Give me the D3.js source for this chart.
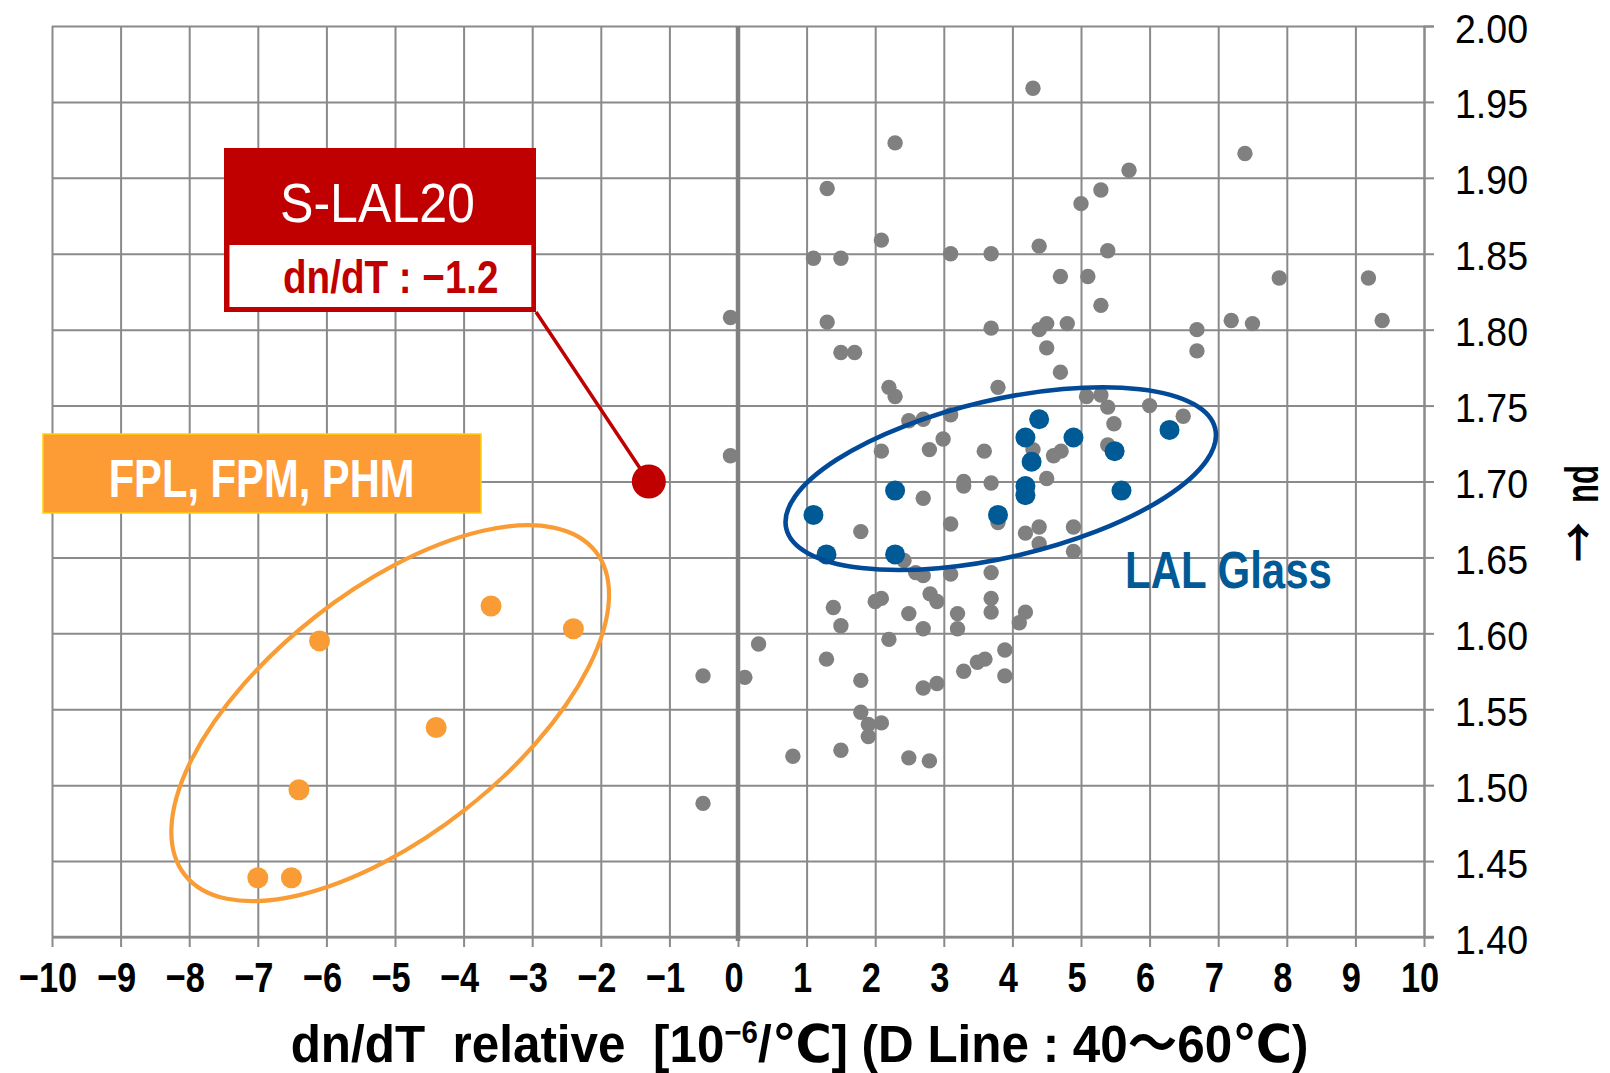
<!DOCTYPE html>
<html>
<head>
<meta charset="utf-8">
<script src="https://cdn.jsdelivr.net/npm/d3@7"></script>
<style>
  html, body { margin: 0; padding: 0; background: #fff; }
  svg { display: block; }
  text { white-space: pre; }
</style>
</head>
<body>
<svg id="chart" width="1610" height="1073"></svg>
<script>
// ---------------- DATA ----------------
const xTickValues = [-10,-9,-8,-7,-6,-5,-4,-3,-2,-1,0,1,2,3,4,5,6,7,8,9,10];
const yTickValues = [1.40,1.45,1.50,1.55,1.60,1.65,1.70,1.75,1.80,1.85,1.90,1.95,2.00];

// other optical glasses (grey)
const otherDnDT = [4.30,2.29,5.70,1.30,5.29,5.00,7.39,
  2.09,1.10,1.50,3.10,3.69,4.39,5.39,
  4.70,5.10,7.89,9.19,5.29,
  -0.11,1.30,3.69,4.39,4.50,4.80,6.69,7.19,7.50,9.39,
  4.50,1.50,1.70,6.69,4.70,
  2.20,2.29,3.79,5.08,5.29,5.39,6.00,6.49,5.48,
  2.49,2.70,3.10,2.99,2.79,2.09,3.59,4.30,4.60,4.71,5.39,-0.11,
  3.29,3.29,3.69,4.50,2.70,3.10,3.79,1.79,4.19,4.39,4.89,4.39,4.89,
  2.42,2.59,2.70,3.10,3.69,2.80,2.90,2.00,2.09,3.69,3.69,1.39,2.49,3.20,4.19,4.10,1.50,2.70,3.20,2.20,0.30,1.29,3.89,3.49,3.60,3.29,3.89,-0.51,0.10,1.79,2.70,2.90,
  1.79,1.90,2.09,1.90,0.80,1.50,2.49,2.79,-0.51];
const otherNd = [1.959,1.923,1.905,1.893,1.892,1.883,1.916,
  1.859,1.847,1.847,1.850,1.850,1.855,1.852,
  1.835,1.835,1.834,1.834,1.816,
  1.808,1.805,1.801,1.800,1.804,1.804,1.800,1.806,1.804,1.806,
  1.788,1.785,1.785,1.786,1.772,
  1.762,1.756,1.762,1.756,1.757,1.749,1.750,1.743,1.738,
  1.740,1.741,1.744,1.728,1.721,1.720,1.720,1.721,1.717,1.720,1.724,1.717,
  1.700,1.697,1.699,1.702,1.689,1.672,1.673,1.667,1.666,1.670,1.670,1.659,1.654,
  1.648,1.640,1.638,1.639,1.640,1.626,1.621,1.621,1.623,1.623,1.614,1.617,1.613,1.613,1.614,1.607,1.605,1.603,1.603,1.596,1.593,1.583,1.589,1.581,1.583,1.575,1.572,1.572,1.571,1.569,1.564,1.567,
  1.548,1.540,1.541,1.532,1.519,1.523,1.518,1.516,1.488];

// LAL glasses (blue)
const lalDnDT = [4.39,4.19,4.89,4.28,5.49,4.19,4.19,5.59,2.29,1.10,3.79,1.29,2.29,6.29];
const lalNd   = [1.741,1.729,1.729,1.713,1.720,1.697,1.691,1.694,1.694,1.678,1.678,1.652,1.652,1.734];

// FPL, FPM, PHM (orange)
const fpDnDT = [-3.60,-2.40,-6.10,-4.40,-6.40,-7.00,-6.51];
const fpNd   = [1.618,1.603,1.595,1.538,1.497,1.439,1.439];

// S-LAL20 (red)
const slalDnDT = [-1.3];
const slalNd   = [1.700];

// group ellipses (centre in data units, radii in dn/dT units, rotation in degrees)
const lalEllipse = {cx: 3.83, cy: 1.7019, rx: 3.21, ry: 1.146, angle: -13.1};
const fpEllipse  = {cx: -5.07, cy: 1.5474, rx: 3.81, ry: 1.78, angle: -38.2};

// ---------------- LAYOUT ----------------
const FONT = '"Liberation Sans", Arial, "DejaVu Sans", "Noto Sans CJK JP", sans-serif';
const svg = d3.select('#chart');
const pLeft = 52, pRight = 1424, pTop = 26, pBottom = 937;
const x = d3.scaleLinear().domain([-10, 10]).range([pLeft, pRight]);
const y = d3.scaleLinear().domain([1.40, 2.00]).range([pBottom, pTop]);
const unitPx = x(1) - x(0);

const GRID = '#8a8a8a';
const GREY = '#808080', BLUE = '#005a96', ELL_BLUE = '#004a98', ORANGE = '#fa9c35', RED = '#c00000';

function fitText(parent, str, px, py, size, weight, fill, targetW, anchor, rot, family) {
  const t = parent.append('text')
    .attr('font-family', family || FONT).attr('font-size', size).attr('font-weight', weight)
    .attr('fill', fill).attr('text-anchor', anchor || 'middle').text(str);
  const w = t.node().getComputedTextLength();
  const s = targetW ? targetW / w : 1;
  t.attr('transform', `translate(${px},${py})${rot ? ` rotate(${rot})` : ''} scale(${s},1)`);
  return t;
}

// vertical gridlines
svg.append('g').attr('transform', `translate(0,${pBottom})`)
  .call(d3.axisBottom(x).tickValues(xTickValues).tickSize(-(pBottom - pTop)).tickFormat(''))
  .call(g => g.select('.domain').remove())
  .call(g => g.selectAll('line').attr('stroke', GRID).attr('stroke-width', 2));

// horizontal gridlines
svg.append('g').attr('transform', `translate(${pRight},0)`)
  .call(d3.axisRight(y).tickValues(yTickValues).tickSize(-(pRight - pLeft)).tickFormat(''))
  .call(g => g.select('.domain').remove())
  .call(g => g.selectAll('line').attr('stroke', GRID).attr('stroke-width', 2));

// x axis ticks + labels
const xAxis = svg.append('g').attr('transform', `translate(0,${pBottom})`)
  .call(d3.axisBottom(x).tickValues(xTickValues).tickSize(10).tickFormat(d => (d < 0 ? '\u2212' : '') + Math.abs(d)))
  .call(g => g.select('.domain').remove())
  .call(g => g.selectAll('line').attr('stroke', GRID).attr('stroke-width', 2));
xAxis.selectAll('text')
  .attr('font-family', FONT).attr('font-size', 43).attr('font-weight', 'bold').attr('fill', '#000')
  .attr('y', 0).attr('dy', 0)
  .attr('transform', 'translate(-4.5,54.5) scale(0.8,1)');

// bottom axis line
svg.append('line').attr('x1', pLeft).attr('x2', pRight + 10).attr('y1', pBottom).attr('y2', pBottom)
  .attr('stroke', GRID).attr('stroke-width', 2.6);

// y axis (right side)
const yAxis = svg.append('g').attr('transform', `translate(${pRight},0)`)
  .call(d3.axisRight(y).tickValues(yTickValues).tickSize(10).tickFormat(d3.format('.2f')))
  .call(g => g.select('.domain').attr('stroke', GRID).attr('stroke-width', 2))
  .call(g => g.selectAll('line').attr('stroke', GRID).attr('stroke-width', 2));
yAxis.selectAll('text')
  .attr('font-family', FONT).attr('font-size', 41).attr('fill', '#000')
  .attr('x', 0).attr('dy', 0)
  .attr('transform', 'translate(31,16) scale(0.915,1)');

// zero line
svg.append('line').attr('x1', x(0)).attr('x2', x(0)).attr('y1', pTop).attr('y2', pBottom + 4)
  .attr('stroke', GREY).attr('stroke-width', 4.5);

// grey points
svg.append('g').selectAll('circle').data(d3.range(otherDnDT.length)).join('circle')
  .attr('cx', i => x(otherDnDT[i])).attr('cy', i => y(otherNd[i])).attr('r', 7.7).attr('fill', GREY);

// LAL points
svg.append('g').selectAll('circle').data(d3.range(lalDnDT.length)).join('circle')
  .attr('cx', i => x(lalDnDT[i])).attr('cy', i => y(lalNd[i])).attr('r', 10).attr('fill', BLUE);

// FPL points
svg.append('g').selectAll('circle').data(d3.range(fpDnDT.length)).join('circle')
  .attr('cx', i => x(fpDnDT[i])).attr('cy', i => y(fpNd[i])).attr('r', 10.5).attr('fill', ORANGE);

// ellipses
function drawEllipse(e, color, width) {
  svg.append('ellipse')
    .attr('transform', `translate(${x(e.cx)},${y(e.cy)}) rotate(${e.angle})`)
    .attr('rx', e.rx * unitPx).attr('ry', e.ry * unitPx)
    .attr('fill', 'none').attr('stroke', color).attr('stroke-width', width);
}
drawEllipse(lalEllipse, ELL_BLUE, 4.6);
drawEllipse(fpEllipse, ORANGE, 4.2);

// LAL Glass label
fitText(svg, 'LAL Glass', 1125, 588, 52, 'bold', BLUE, 207, 'start');

// FPL box
svg.append('rect').attr('x', 43).attr('y', 434).attr('width', 438).attr('height', 79)
  .attr('fill', '#fd9b35').attr('stroke', '#ffd200').attr('stroke-width', 1.5);
fitText(svg, 'FPL, FPM, PHM', 261.6, 496.7, 53, 'bold', '#fff', 306);

// S-LAL20 box
const bx0 = 224, by0 = 148, bx1 = 536, by1 = 312;
svg.append('rect').attr('x', bx0).attr('y', by0).attr('width', bx1 - bx0).attr('height', by1 - by0).attr('fill', RED);
svg.append('rect').attr('x', 229.5).attr('y', 245).attr('width', 531.3 - 229.5).attr('height', 307 - 245).attr('fill', '#fff');
fitText(svg, 'S-LAL20', 377.5, 221.7, 56, 'normal', '#fff', 195);
fitText(svg, 'dn/dT : \u22121.2', 390.8, 293.3, 46, 'bold', RED, 215.6);

// leader line + S-LAL20 point
svg.append('line').attr('x1', bx1).attr('y1', by1).attr('x2', x(slalDnDT[0])).attr('y2', y(slalNd[0]))
  .attr('stroke', RED).attr('stroke-width', 3.5);
svg.append('g').selectAll('circle').data(d3.range(slalDnDT.length)).join('circle')
  .attr('cx', i => x(slalDnDT[i])).attr('cy', i => y(slalNd[i])).attr('r', 17).attr('fill', RED);

// x axis title
const title = svg.append('text').attr('font-family', FONT).attr('font-size', 52).attr('font-weight', 'bold').attr('fill', '#000');
title.append('tspan').text('dn/dT  relative  [10');
title.append('tspan').attr('font-size', 31).attr('dy', -19).text('\u22126');
title.append('tspan').attr('dy', 19).text('/\u2103] (D Line : 40\u301C60\u2103)');
const tw = title.node().getBBox().width;
title.attr('transform', `translate(290.7,1061.7) scale(${1018 / tw},1)`);

// y axis title (rotated, reading upward): arrow then "nd"
fitText(svg, 'nd', 1598, 484, 46, 'bold', '#000', 38, 'middle', -90);
fitText(svg, '\u2192', 1595, 542, 44, 'bold', '#000', 40, 'middle', -90, '"Noto Sans CJK JP", "DejaVu Sans", sans-serif');
</script>
</body>
</html>
